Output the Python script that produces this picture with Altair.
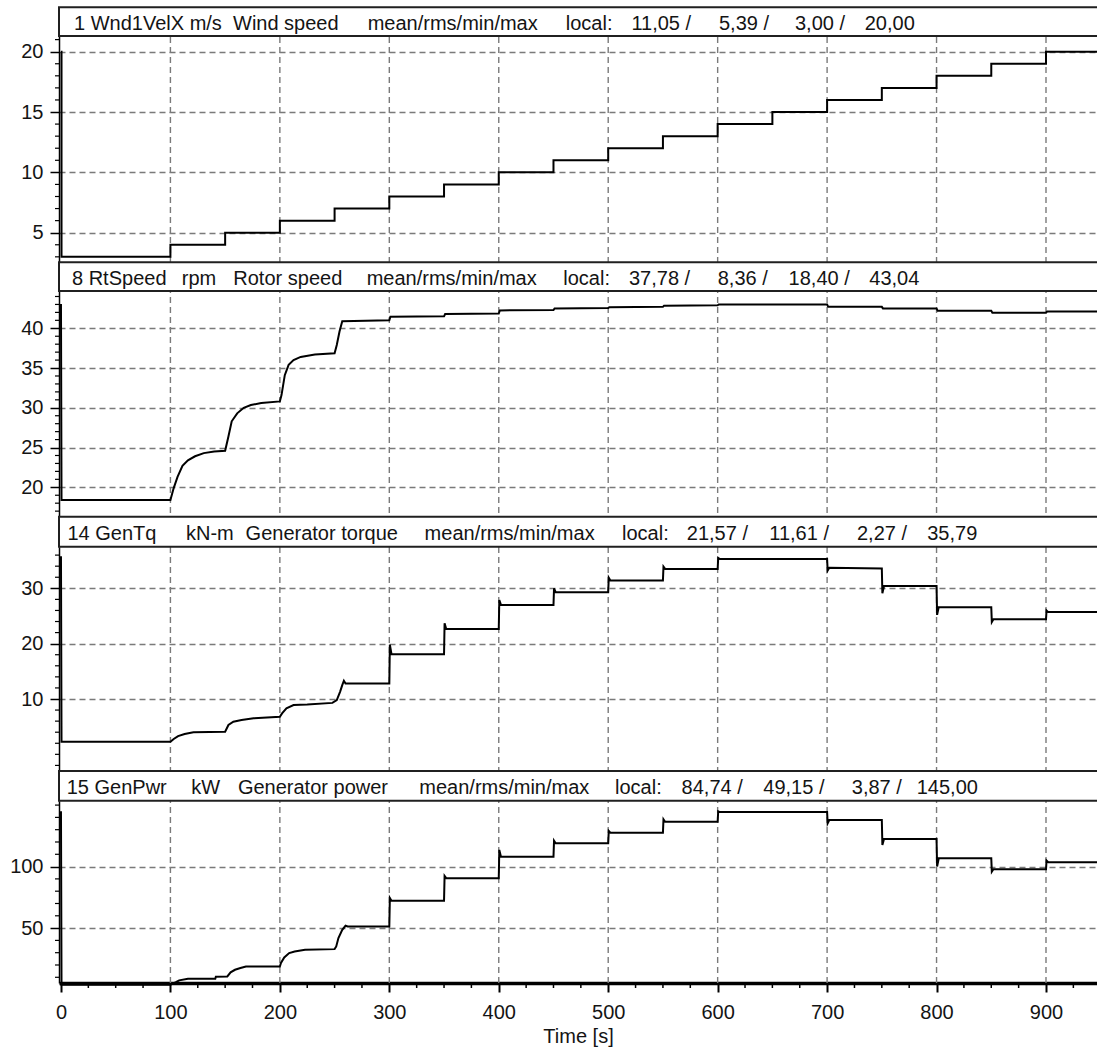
import altair as alt
import pandas as pd

FONT = "Liberation Sans"
INK = "#141414"
GRID = "#7a7a7a"

PLOT_W = 1038
PLOT_H = 976

# ---- time axis -------------------------------------------------------------
TIME_DOMAIN = [-1.8, 946.6]
TIME_TICKS = [0, 100, 200, 300, 400, 500, 600, 700, 800, 900]
TIME_MINOR = [25, 50, 75, 125, 150, 175, 225, 250, 275, 325, 350, 375, 425, 450, 475,
              525, 550, 575, 625, 650, 675, 725, 750, 775, 825, 850, 875, 925]

# ---- 1 Wnd1VelX: wind speed steps (m/s), drawn step-after ----------------------
wind_t = [0, 0.5, 100, 150, 200, 250, 300, 350, 400, 450, 500, 550, 600, 650, 700,
          750, 800, 850, 900, 950]
wind_v = [20, 3, 4, 5, 6, 7, 8, 9, 10, 11, 12, 13, 14, 15, 16, 17, 18, 19, 20, 20]
wind_ticks = [5, 10, 15, 20]
wind_minor = [3, 4, 6, 7, 8, 9, 11, 12, 13, 14, 16, 17, 18, 19, 21]

# ---- 8 RtSpeed: rotor speed (rpm) ----------------------------------------------
rotor_t = [0, 0.5, 100, 103, 106.5, 111, 116, 122.5, 130.5, 140, 150,
           153, 156, 161, 167, 173.5, 183, 200,
           201.5, 204.5, 208, 212.5, 219, 232, 250,
           252, 254.5, 257, 300, 301, 350, 351, 400, 401, 450, 451, 500, 501,
           550, 551, 600, 601, 700, 701, 750, 751, 800, 801, 850, 851, 900, 901, 950]
rotor_v = [43.04, 18.4, 18.4, 19.9, 21.3, 22.7, 23.4, 23.9, 24.3, 24.5, 24.6,
           26.4, 28.3, 29.3, 30.0, 30.35, 30.6, 30.8,
           31.6, 34.1, 35.4, 36.0, 36.4, 36.7, 36.85,
           37.9, 39.6, 40.9, 41.0, 41.45, 41.5, 41.8, 41.85, 42.25, 42.3, 42.5, 42.55, 42.65,
           42.7, 42.85, 42.9, 43.0, 43.0, 42.7, 42.7, 42.5, 42.5, 42.2, 42.2, 41.96, 41.96, 42.1, 42.1]
rotor_ticks = [20, 25, 30, 35, 40]
rotor_minor = [17, 18, 19, 21, 22, 23, 24, 26, 27, 28, 29, 31, 32, 33, 34, 36, 37, 38, 39,
               41, 42, 43, 44]

# ---- 14 GenTq: generator torque (kN-m) -----------------------------------------
torque_t = [0, 0.5, 100, 103, 107, 113, 121, 150,
            153, 157.5, 165, 176, 200,
            202, 206, 212.5, 225, 248,
            252, 255, 257, 258.5, 260, 300,
            300.5, 302, 350, 350.5, 352, 400, 400.5, 402, 450, 450.5, 452, 500,
            500.5, 502, 550, 550.5, 552, 600, 600.5, 602, 700, 700.5, 702, 750,
            750.5, 752, 800, 800.5, 802, 850, 850.5, 852, 900, 900.5, 902, 950]
torque_v = [35.79, 2.27, 2.27, 2.77, 3.3, 3.68, 4.0, 4.1,
            5.3, 5.9, 6.2, 6.5, 6.8,
            7.4, 8.3, 8.9, 9.0, 9.3,
            9.8, 11.3, 12.5, 13.3, 12.8, 12.8,
            19.8, 18.1, 18.1, 23.7, 22.65, 22.65, 27.9, 27.0, 27.0, 30.0, 29.3, 29.3,
            31.9, 31.4, 31.4, 33.9, 33.5, 33.5, 35.5, 35.3, 35.3, 33.2, 33.7, 33.6,
            29.1, 30.4, 30.4, 25.2, 26.6, 26.6, 23.9, 24.4, 24.4, 26.0, 25.7, 25.7]
torque_ticks = [10, 20, 30]
torque_minor = [-2, 0, 2, 4, 6, 8, 12, 14, 16, 18, 22, 24, 26, 28, 32, 34, 36]

# ---- 15 GenPwr: generator power (kW) -------------------------------------------
power_t = [0, 0.5, 100, 105, 108, 116, 141, 141.5, 152,
           155, 159, 164, 169, 200,
           201, 204, 208.5, 213.5, 223, 250,
           251.5, 253.5, 257, 260, 262, 300,
           300.5, 302, 350, 350.5, 352, 400, 400.5, 402, 450, 450.5, 452, 500,
           500.5, 502, 550, 550.5, 552, 600, 600.5, 602, 700, 700.5, 702, 750,
           750.5, 752, 800, 800.5, 802, 850, 850.5, 852, 900, 900.5, 902, 950]
power_v = [145.0, 3.87, 3.87, 6.0, 7.5, 8.9, 8.9, 10.5, 10.7,
           14.0, 16.1, 17.5, 18.8, 18.8,
           21.6, 26.1, 29.7, 31.0, 32.4, 32.9,
           35.1, 41.9, 48.6, 51.9, 51.3, 51.3,
           74.4, 72.2, 72.2, 92.4, 90.6, 90.6, 113.6, 108.1, 108.1, 121.1, 119.0, 119.0,
           129.0, 127.6, 127.6, 138.5, 136.5, 136.5, 145.0, 144.3, 144.3, 135.2, 137.9, 137.9,
           117.6, 122.5, 122.5, 100.0, 106.8, 106.8, 95.9, 97.8, 97.8, 104.9, 103.5, 103.5]
power_ticks = [50, 100]
power_minor = [10, 20, 30, 40, 60, 70, 80, 90, 110, 120, 130, 140, 150]

# ---- header bars: channel, unit, description and statistics ---------------------
header_fields = [
    ["1 Wnd1VelX m/s", "Wind speed", "mean/rms/min/max", "local:",
     "11,05 /", "5,39 /", "3,00 /", "20,00"],
    ["8 RtSpeed", "rpm", "Rotor speed", "mean/rms/min/max", "local:",
     "37,78 /", "8,36 /", "18,40 /", "43,04"],
    ["14 GenTq", "kN-m", "Generator torque", "mean/rms/min/max", "local:",
     "21,57 /", "11,61 /", "2,27 /", "35,79"],
    ["15 GenPwr", "kW", "Generator power", "mean/rms/min/max", "local:",
     "84,74 /", "49,15 /", "3,87 /", "145,00"],
]
# left edge of each header field, in pixels from the plot's left border
header_field_x = [
    [15, 174, 308.7, 506.8, 572.4, 660, 736, 805.7],
    [13, 122.8, 174.3, 307.7, 504.3, 570, 658.7, 729.6, 810.3],
    [8.4, 127, 186.6, 365.6, 563, 627.8, 710.3, 798, 868.2],
    [7.7, 132.2, 178.9, 360.3, 556, 622.6, 704.3, 792.8, 857.7],
]
header_top = [0.3, 255.3, 509.7, 764.0]
header_bottom = [29.0, 284.0, 539.7, 793.7]
header_baseline = [22.5, 277.5, 533.0, 786.5]

# vertical pixel band and value domain of each panel's plot area
panel_range = [[255.3, 29.0], [509.7, 284.0], [764.0, 539.7], [976.0, 793.7]]
panel_domain = [[2.547, 21.30], [16.30, 44.69], [-3.01, 37.52], [5.36, 153.57]]

x_axis = alt.Axis(
    orient="bottom", values=TIME_TICKS, grid=False, domainColor="black", domainWidth=3.5,
    tickColor="black", tickSize=9, tickWidth=2, labelFont=FONT, labelFontSize=20,
    labelColor=INK, labelPadding=10, labelFlush=False, labelOverlap=False,
    title="Time [s]", titleFont=FONT, titleFontSize=20, titleFontWeight="normal",
    titleColor=INK, titlePadding=4,
)
x_enc = alt.X("t:Q", scale=alt.Scale(domain=TIME_DOMAIN, nice=False, zero=False), axis=x_axis)


def frame(times, values):
    return pd.DataFrame({"t": times, "v": values, "i": list(range(len(times)))})


def panel(df, interp, domain, rng, ticks, minor):
    y_scale = alt.Scale(domain=domain, range=rng, nice=False, zero=False)
    y_axis = alt.Axis(
        orient="left", values=ticks, grid=True, gridDash=[6, 4], gridColor=GRID,
        gridWidth=1.4, domainColor="black", domainWidth=1.5, tickColor="black",
        tickSize=9, tickWidth=1.5, labelFont=FONT, labelFontSize=20, labelColor=INK,
        labelPadding=7, labelOverlap=False, title=None,
    )
    line = alt.Chart(df).mark_line(color="black", strokeWidth=2, interpolate=interp).encode(
        x=x_enc, y=alt.Y("v:Q", scale=y_scale, axis=y_axis), order="i:Q"
    )
    notches = alt.Chart(pd.DataFrame({"v": minor})).mark_rule(color="black", strokeWidth=1.2).encode(
        x=alt.value(-4), x2=alt.value(0), y=alt.Y("v:Q", scale=y_scale, axis=y_axis)
    )
    return alt.layer(line, notches)


series = [
    (frame(wind_t, wind_v), "step-after", wind_ticks, wind_minor),
    (frame(rotor_t, rotor_v), "linear", rotor_ticks, rotor_minor),
    (frame(torque_t, torque_v), "linear", torque_ticks, torque_minor),
    (frame(power_t, power_v), "linear", power_ticks, power_minor),
]
panels = [
    panel(df, interp, panel_domain[k], panel_range[k], ticks, minor)
    for k, (df, interp, ticks, minor) in enumerate(series)
]

# dashed vertical grid through all four panels at the major time ticks
time_grid = alt.Chart(pd.DataFrame({"t": TIME_TICKS[1:]})).mark_rule(
    color=GRID, strokeWidth=1.4, strokeDash=[6, 4]
).encode(x=x_enc, y=alt.value(0), y2=alt.value(PLOT_H))

x_minor = alt.Chart(pd.DataFrame({"t": TIME_MINOR})).mark_rule(color="black", strokeWidth=1.5).encode(
    x=x_enc, y=alt.value(PLOT_H), y2=alt.value(PLOT_H + 5)
)

data_layers = alt.layer(time_grid, *panels, x_minor).resolve_scale(y="independent")

boxes = pd.DataFrame({"y0": header_top, "y1": header_bottom})
header_boxes = alt.Chart(boxes).mark_rect(fill="white", stroke="#202020", strokeWidth=2).encode(
    x=alt.value(0), x2=alt.value(PLOT_W + 10),
    y=alt.Y("y0:Q", scale=None, axis=None), y2="y1:Q",
)

rows = []
for k, fields in enumerate(header_fields):
    for label, xpos in zip(fields, header_field_x[k]):
        rows.append({"label": label, "x": xpos, "y": header_baseline[k]})
header_text = alt.Chart(pd.DataFrame(rows)).mark_text(
    align="left", baseline="alphabetic", font=FONT, fontSize=20, color=INK
).encode(
    x=alt.X("x:Q", scale=None, axis=None),
    y=alt.Y("y:Q", scale=None, axis=None),
    text="label:N",
)

chart = (
    alt.layer(data_layers, header_boxes, header_text)
    .resolve_scale(x="independent", y="independent")
    .properties(
        width=PLOT_W, height=PLOT_H,
        padding={"left": 59, "top": 7, "right": 0, "bottom": 69},
        autosize=alt.AutoSizeParams(type="none"),
        background="white",
    )
    .configure_view(stroke=None)
)

chart.save("out.html", embed_options={"renderer": "svg", "actions": False})
